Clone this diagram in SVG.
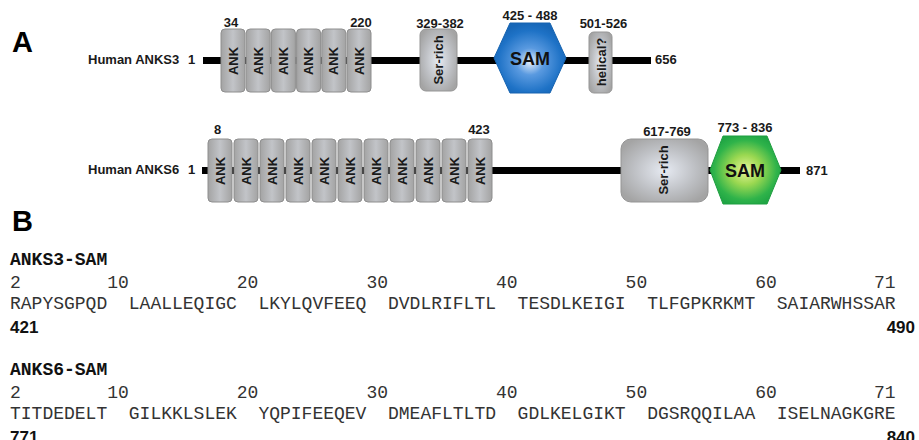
<svg xmlns="http://www.w3.org/2000/svg" width="919" height="440" viewBox="0 0 919 440">
<style>
.lbl{font-family:"Liberation Sans",Arial,sans-serif;font-weight:bold;font-size:13px;fill:#1a1a1a}
.big{font-family:"Liberation Sans",Arial,sans-serif;font-weight:bold;font-size:29px;fill:#000}
.dom{font-family:"Liberation Sans",Arial,sans-serif;font-weight:bold;font-size:13px;fill:#1a1a1a;text-anchor:middle}
.sam{font-family:"Liberation Sans",Arial,sans-serif;font-weight:bold;font-size:18px;fill:#111;text-anchor:middle}
.mono{font-family:"Liberation Mono","Courier New",monospace;font-size:18px;fill:#333}
.monob{font-family:"Liberation Mono","Courier New",monospace;font-size:18px;font-weight:bold;fill:#111}
.num{font-family:"Liberation Sans",Arial,sans-serif;font-weight:bold;font-size:17px;fill:#111}
.ank{fill:url(#gAnk);stroke:#8e8e8e;stroke-width:1}
.gbox{fill:url(#gSer);stroke:#959595;stroke-width:1}
.bb{fill:#000}
</style>
<defs>
<linearGradient id="gAnk" x1="0" y1="0" x2="1" y2="0">
<stop offset="0" stop-color="#a3a3a3"/>
<stop offset="0.5" stop-color="#c2c4c8"/>
<stop offset="1" stop-color="#a3a3a3"/>
</linearGradient>
<radialGradient id="gSer" cx="0.5" cy="0.5" r="0.6">
<stop offset="0" stop-color="#e6eaf2"/>
<stop offset="0.6" stop-color="#bdbfc3"/>
<stop offset="1" stop-color="#a4a4a4"/>
</radialGradient>
<radialGradient id="gBlue" cx="0.5" cy="0.55" r="0.55">
<stop offset="0" stop-color="#e8f0fb"/>
<stop offset="0.35" stop-color="#5a9ae0"/>
<stop offset="0.8" stop-color="#1e72c6"/>
<stop offset="1" stop-color="#1767b8"/>
</radialGradient>
<radialGradient id="gGreen" cx="0.5" cy="0.5" r="0.55">
<stop offset="0" stop-color="#e8f59a"/>
<stop offset="0.4" stop-color="#9bd851"/>
<stop offset="0.8" stop-color="#2fb34a"/>
<stop offset="1" stop-color="#1fa544"/>
</radialGradient>
</defs>
<rect width="919" height="440" fill="#fff"/>

<text class="big" x="12" y="52">A</text>
<text class="big" x="12" y="231">B</text>

<g id="connectors">
<rect class="bb" x="203" y="57" width="448" height="7"/>
<rect class="bb" x="202" y="167" width="598" height="7"/>
</g>

<g id="anks3">
<text class="lbl" x="88" y="64">Human ANKS3</text>
<text class="lbl" x="188" y="64">1</text>
<text class="lbl" x="655" y="64">656</text>
</g>
<g id="anks3-ank">
<rect class="ank" x="221" y="29" width="24" height="63" rx="4"/>
<rect class="ank" x="246.2" y="29" width="24" height="63" rx="4"/>
<rect class="ank" x="271.4" y="29" width="24" height="63" rx="4"/>
<rect class="ank" x="296.6" y="29" width="24" height="63" rx="4"/>
<rect class="ank" x="321.8" y="29" width="24" height="63" rx="4"/>
<rect class="ank" x="347" y="29" width="24" height="63" rx="4"/>
<text class="dom" transform="translate(237.6,61) rotate(-90)">ANK</text>
<text class="dom" transform="translate(262.8,61) rotate(-90)">ANK</text>
<text class="dom" transform="translate(288,61) rotate(-90)">ANK</text>
<text class="dom" transform="translate(313.2,61) rotate(-90)">ANK</text>
<text class="dom" transform="translate(338.4,61) rotate(-90)">ANK</text>
<text class="dom" transform="translate(363.6,61) rotate(-90)">ANK</text>
<text class="lbl" x="231" y="27" text-anchor="middle">34</text>
<text class="lbl" x="361" y="27" text-anchor="middle">220</text>
</g>
<g id="anks3-ser">
<rect class="gbox" x="420" y="29" width="37" height="62" rx="6"/>
<text class="dom" transform="translate(443,60) rotate(-90)">Ser-rich</text>
<text class="lbl" x="440" y="28" text-anchor="middle">329-382</text>
</g>
<g id="anks3-sam">
<polygon points="494,58 510,23 550,23 566,58 550,93 510,93" fill="url(#gBlue)" stroke="#1663b0" stroke-width="1"/>
<text class="sam" x="530" y="65">SAM</text>
<text class="lbl" x="530" y="20" text-anchor="middle">425 - 488</text>
</g>
<g id="anks3-helical">
<rect class="gbox" x="589" y="32" width="23" height="61" rx="5"/>
<text class="dom" transform="translate(605.5,62) rotate(-90)">helical?</text>
<text class="lbl" x="603.5" y="28" text-anchor="middle">501-526</text>
</g>

<g id="anks6">
<text class="lbl" x="88" y="174">Human ANKS6</text>
<text class="lbl" x="188" y="174">1</text>
<text class="lbl" x="806" y="175">871</text>
</g>
<g id="anks6-ank">
<rect class="ank" x="208" y="139" width="24" height="63" rx="4"/>
<rect class="ank" x="234" y="139" width="24" height="63" rx="4"/>
<rect class="ank" x="260" y="139" width="24" height="63" rx="4"/>
<rect class="ank" x="286" y="139" width="24" height="63" rx="4"/>
<rect class="ank" x="312" y="139" width="24" height="63" rx="4"/>
<rect class="ank" x="338" y="139" width="24" height="63" rx="4"/>
<rect class="ank" x="364" y="139" width="24" height="63" rx="4"/>
<rect class="ank" x="390" y="139" width="24" height="63" rx="4"/>
<rect class="ank" x="416" y="139" width="24" height="63" rx="4"/>
<rect class="ank" x="442" y="139" width="24" height="63" rx="4"/>
<rect class="ank" x="468" y="139" width="24" height="63" rx="4"/>
<text class="dom" transform="translate(224.6,171) rotate(-90)">ANK</text>
<text class="dom" transform="translate(250.6,171) rotate(-90)">ANK</text>
<text class="dom" transform="translate(276.6,171) rotate(-90)">ANK</text>
<text class="dom" transform="translate(302.6,171) rotate(-90)">ANK</text>
<text class="dom" transform="translate(328.6,171) rotate(-90)">ANK</text>
<text class="dom" transform="translate(354.6,171) rotate(-90)">ANK</text>
<text class="dom" transform="translate(380.6,171) rotate(-90)">ANK</text>
<text class="dom" transform="translate(406.6,171) rotate(-90)">ANK</text>
<text class="dom" transform="translate(432.6,171) rotate(-90)">ANK</text>
<text class="dom" transform="translate(458.6,171) rotate(-90)">ANK</text>
<text class="dom" transform="translate(484.6,171) rotate(-90)">ANK</text>
<text class="lbl" x="217.5" y="134" text-anchor="middle">8</text>
<text class="lbl" x="479" y="134" text-anchor="middle">423</text>
</g>
<g id="anks6-ser">
<rect class="gbox" x="621" y="139" width="87" height="63" rx="10"/>
<text class="dom" transform="translate(667.5,170) rotate(-90)">Ser-rich</text>
<text class="lbl" x="667" y="136" text-anchor="middle">617-769</text>
</g>
<g id="anks6-sam">
<polygon points="710,170 723,136 767,136 781,170 767,204 723,204" fill="url(#gGreen)" stroke="#1f9e40" stroke-width="1"/>
<text class="sam" x="745" y="177">SAM</text>
<text class="lbl" x="745" y="132" text-anchor="middle">773 - 836</text>
</g>

<g id="seq-anks3">
<text class="monob" x="10" y="265">ANKS3-SAM</text>
<text class="mono" y="288"><tspan x="10">2</tspan><tspan x="107.2">10</tspan><tspan x="236.8">20</tspan><tspan x="366.4">30</tspan><tspan x="496">40</tspan><tspan x="625.6">50</tspan><tspan x="755.2">60</tspan><tspan x="874">71</tspan></text>
<text class="mono" y="309" fill="#222"><tspan x="10">RAPYSGPQD</tspan><tspan x="128.8">LAALLEQIGC</tspan><tspan x="258.4">LKYLQVFEEQ</tspan><tspan x="388">DVDLRIFLTL</tspan><tspan x="517.6">TESDLKEIGI</tspan><tspan x="647.2">TLFGPKRKMT</tspan><tspan x="776.8">SAIARWHSSAR</tspan></text>
<text class="num" x="10" y="333">421</text>
<text class="num" x="915" y="333" text-anchor="end">490</text>
</g>
<g id="seq-anks6">
<text class="monob" x="10" y="375">ANKS6-SAM</text>
<text class="mono" y="398"><tspan x="10">2</tspan><tspan x="107.2">10</tspan><tspan x="236.8">20</tspan><tspan x="366.4">30</tspan><tspan x="496">40</tspan><tspan x="625.6">50</tspan><tspan x="755.2">60</tspan><tspan x="874">71</tspan></text>
<text class="mono" y="419"><tspan x="10">TITDEDELT</tspan><tspan x="128.8">GILKKLSLEK</tspan><tspan x="258.4">YQPIFEEQEV</tspan><tspan x="388">DMEAFLTLTD</tspan><tspan x="517.6">GDLKELGIKT</tspan><tspan x="647.2">DGSRQQILAA</tspan><tspan x="776.8">ISELNAGKGRE</tspan></text>
<text class="num" x="10" y="443">771</text>
<text class="num" x="915" y="443" text-anchor="end">840</text>
</g>
</svg>
